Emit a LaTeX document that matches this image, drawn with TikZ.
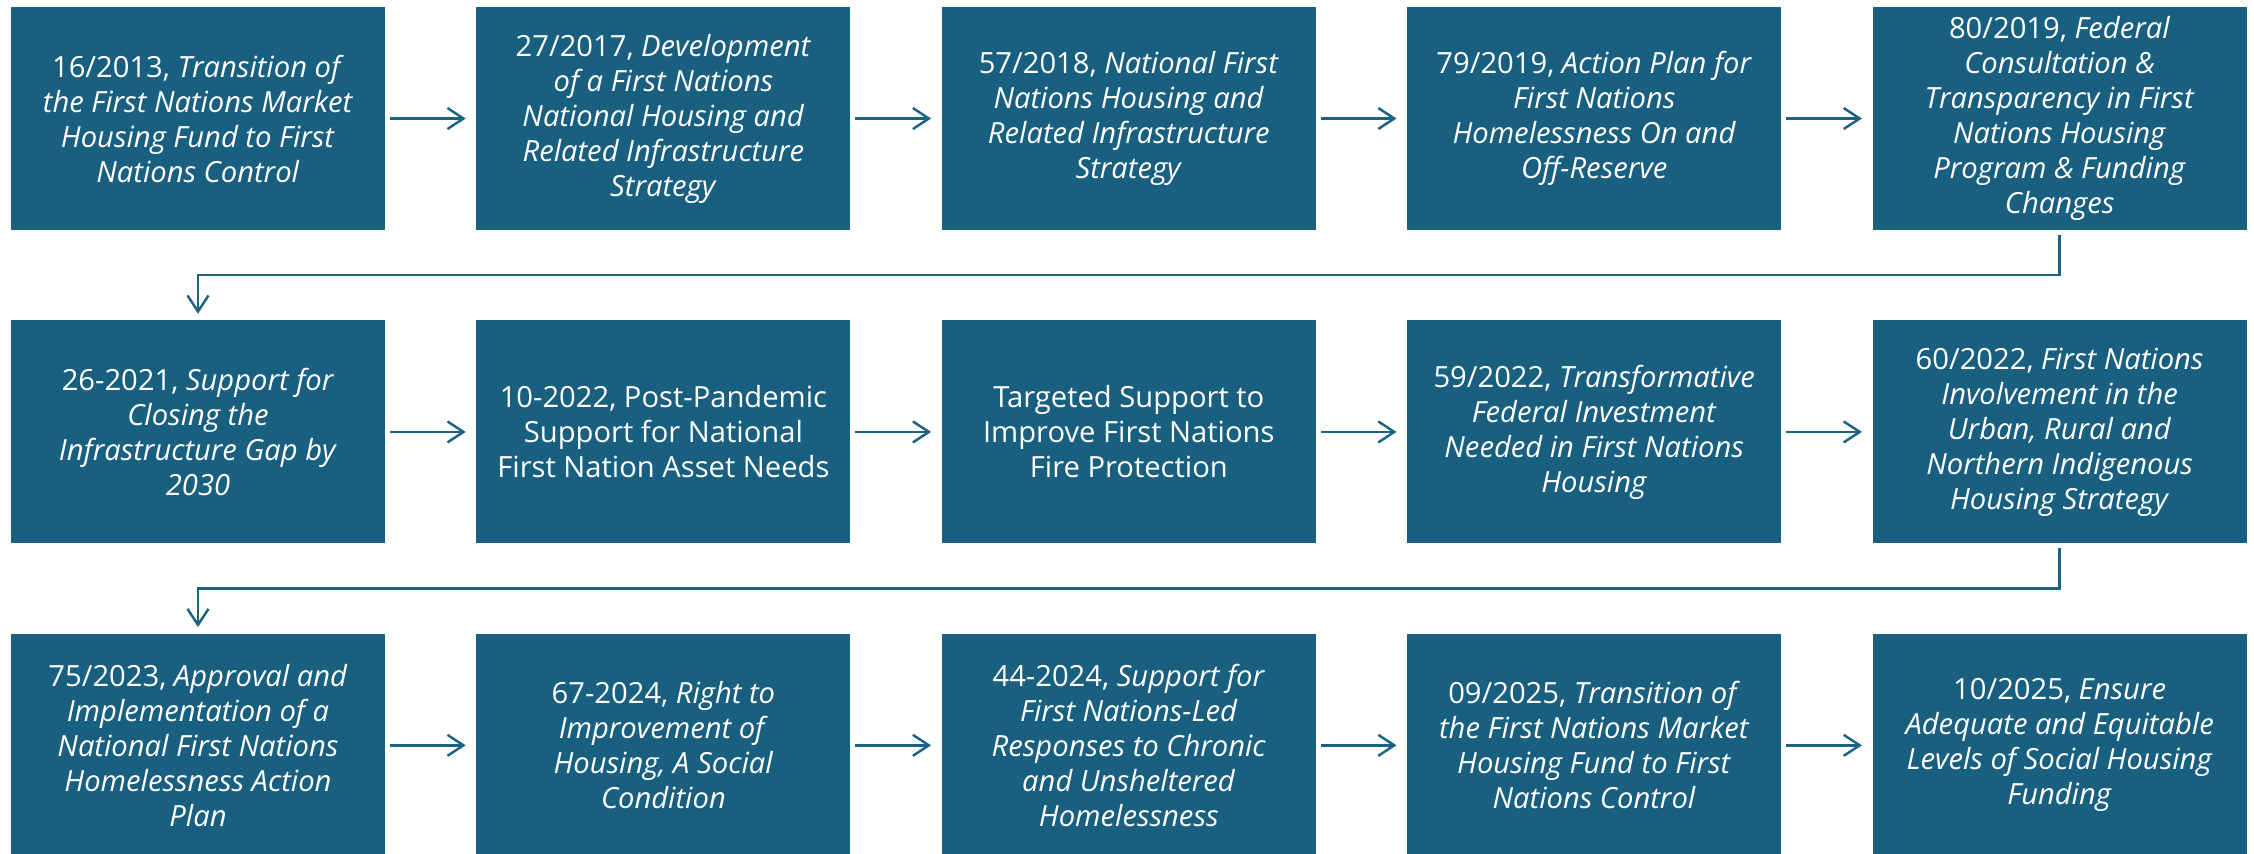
\documentclass[tikz,border=0pt]{standalone}
\usepackage{fontspec}
\setmainfont{Open Sans}
\usetikzlibrary{positioning,arrows.meta}
\definecolor{boxblue}{RGB}{25,95,128}
\definecolor{lineblue}{RGB}{28,98,130}

\begin{document}
\begin{tikzpicture}[
      box/.style={fill=boxblue, text=white, align=center, inner sep=0cm,
        minimum width=3.74cm, minimum height=2.23cm,
        font=\fontsize{8.3}{9.96}\selectfont},
      flow/.style={draw=lineblue, line width=0.7pt,
        -{Straight Barb[length=1.6mm, width=2.1mm]},
        shorten <=0.04cm, shorten >=0.1cm},
      node distance=0.89cm and 0.90cm]
      \useasboundingbox (0,0) rectangle (22.54,-8.53);
      % first row
      \node[box] (a1) at (1.98,-1.185)
        {16/2013, \textit{Transition of}\\\textit{the First Nations Market}\\
         \textit{Housing Fund to First}\\\textit{Nations Control}};
      \node[box, right=of a1] (a2)
        {27/2017, \textit{Development}\\\textit{of a First Nations}\\
         \textit{National Housing and}\\\textit{Related Infrastructure}\\
         \textit{Strategy}};
      \node[box, right=of a2] (a3)
        {57/2018, \textit{National First}\\\textit{Nations Housing and}\\
         \textit{Related Infrastructure}\\\textit{Strategy}};
      \node[box, right=of a3] (a4)
        {79/2019, \textit{Action Plan for}\\\textit{First Nations}\\
         \textit{Homelessness On and}\\\textit{Off-Reserve}};
      \node[box, right=of a4] (a5)
        {80/2019, \textit{Federal}\\\textit{Consultation \&}\\
         \textit{Transparency in First}\\\textit{Nations Housing}\\
         \textit{Program \& Funding}\\\textit{Changes}};
      % second row
      \node[box, below=of a1] (b1)
        {26-2021, \textit{Support for}\\\textit{Closing the}\\
         \textit{Infrastructure Gap by}\\\textit{2030}};
      \node[box, right=of b1] (b2)
        {10-2022, Post-Pandemic\\Support for National\\First Nation Asset Needs};
      \node[box, right=of b2] (b3)
        {Targeted Support to\\Improve First Nations\\Fire Protection};
      \node[box, right=of b3] (b4)
        {59/2022, \textit{Transformative}\\\textit{Federal Investment}\\
         \textit{Needed in First Nations}\\\textit{Housing}};
      \node[box, right=of b4] (b5)
        {60/2022, \textit{First Nations}\\\textit{Involvement in the}\\
         \textit{Urban, Rural and}\\\textit{Northern Indigenous}\\
         \textit{Housing Strategy}};
      % third row
      \node[box, below=of b1] (c1)
        {75/2023, \textit{Approval and}\\\textit{Implementation of a}\\
         \textit{National First Nations}\\\textit{Homelessness Action}\\
         \textit{Plan}};
      \node[box, right=of c1] (c2)
        {67-2024, \textit{Right to}\\\textit{Improvement of}\\
         \textit{Housing, A Social}\\\textit{Condition}};
      \node[box, right=of c2] (c3)
        {44-2024, \textit{Support for}\\\textit{First Nations-Led}\\
         \textit{Responses to Chronic}\\\textit{and Unsheltered}\\
         \textit{Homelessness}};
      \node[box, right=of c3] (c4)
        {09/2025, \textit{Transition of}\\\textit{the First Nations Market}\\
         \textit{Housing Fund to First}\\\textit{Nations Control}};
      \node[box, right=of c4] (c5)
        {10/2025, \textit{Ensure}\\\textit{Adequate and Equitable}\\
         \textit{Levels of Social Housing}\\\textit{Funding}};
      % arrows
      \draw[flow] (a1) -- (a2);
      \draw[flow] (a2) -- (a3);
      \draw[flow] (a3) -- (a4);
      \draw[flow] (a4) -- (a5);
      \draw[flow, shorten >=0.06cm] (a5.south) -- ++(0,-0.445) -| (b1.north);
      \draw[flow] (b1) -- (b2);
      \draw[flow] (b2) -- (b3);
      \draw[flow] (b3) -- (b4);
      \draw[flow] (b4) -- (b5);
      \draw[flow, shorten >=0.06cm] (b5.south) -- ++(0,-0.445) -| (c1.north);
      \draw[flow] (c1) -- (c2);
      \draw[flow] (c2) -- (c3);
      \draw[flow] (c3) -- (c4);
      \draw[flow] (c4) -- (c5);
\end{tikzpicture}
\end{document}
